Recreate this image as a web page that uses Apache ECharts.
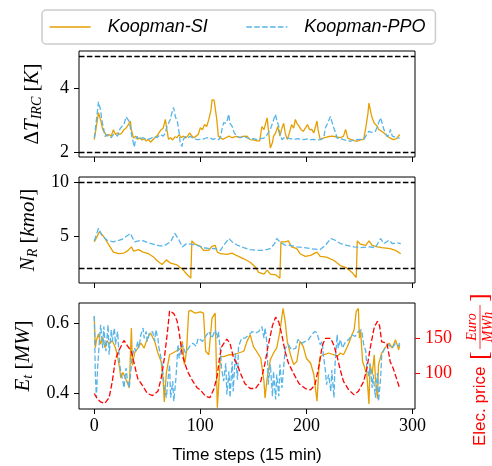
<!DOCTYPE html>
<html>
<head>
<meta charset="utf-8">
<script src="https://cdn.jsdelivr.net/npm/echarts@6/dist/echarts.min.js"></script>
<style>
body { margin: 0; background: #fff; }
#main { width: 492px; height: 466px; }
</style>
</head>
<body>
<div id="main"></div>
<script>
// time step ticks
var stepTicks = [0, 100, 200, 300];

// delta T IRC [K]
var tempTicks = [2, 4];
var tempBounds = [2, 5];
var siTemp = [[0,2.39],[2,2.8],[4,3.23],[6,3.0],[8,2.7],[10,2.6],[12,2.5],[14,2.55],[16,2.5],[18,2.7],[20,2.55],[22,2.6],[24,2.55],[26,2.6],[28,2.7],[30,2.75],[32,2.85],[34,2.97],[35,2.7],[37,2.44],[39,2.5],[41,2.4],[43,2.45],[45,2.38],[47,2.42],[49,2.35],[51,2.4],[53,2.31],[55,2.38],[57,2.45],[59,2.5],[61,2.6],[63,2.7],[65,2.75],[67,3.02],[68.5,2.7],[70,2.4],[72,2.45],[74,2.38],[76,2.48],[78,2.45],[80,2.55],[82,2.45],[84,2.5],[86,2.44],[88,2.5],[90,2.6],[92,2.5],[94,2.45],[96,2.5],[98,2.55],[100,2.76],[102,2.7],[104,2.86],[106,2.8],[108,3.02],[110,3.3],[111,3.63],[113,3.62],[114,3.6],[115.5,3.02],[117,2.5],[119,2.45],[121,2.4],[124,2.45],[127,2.5],[130,2.45],[134,2.49],[137,2.45],[140,2.49],[144,2.5],[147,2.39],[150,2.38],[153,2.35],[156,2.35],[158,2.8],[160,2.7],[163,3.07],[164.5,2.6],[166,2.13],[168,2.3],[169,2.49],[171,2.6],[173,2.8],[175,2.5],[177,2.75],[178.6,2.9],[180,2.6],[182,2.39],[184,2.6],[186,2.86],[188,2.75],[189.6,3.02],[191,2.9],[193,2.81],[195,2.7],[197,2.65],[199,2.75],[201,2.86],[203,2.7],[205,2.71],[207,2.6],[210,2.97],[211,2.7],[213,2.39],[216,2.44],[220,2.48],[224,2.5],[228,2.48],[232,2.45],[235,2.5],[237,2.71],[239,2.44],[242,2.39],[245,2.36],[248,2.34],[251,2.38],[254,2.4],[256,2.76],[258,3.2],[259,3.53],[261,3.2],[262,3.07],[264,2.9],[265,2.86],[267,2.8],[268,2.71],[271,2.65],[273,2.6],[276,2.5],[279,2.44],[282,2.39],[285,2.42],[288,2.55]];
var ppoTemp = [[0,2.44],[2,3.0],[4,3.57],[6,3.3],[7,3.02],[9,2.7],[10,2.49],[12,2.55],[14,2.5],[16,2.45],[18,2.55],[20,2.55],[22,2.5],[24,2.71],[26,2.8],[28,2.86],[30,3.1],[31,3.15],[33,2.95],[34,2.92],[35.5,2.49],[37.7,2.16],[39,2.4],[40.3,2.49],[42,2.4],[43.4,2.34],[46,2.45],[49.7,2.39],[53,2.42],[56,2.49],[59,2.45],[62.3,2.55],[65,2.5],[67,2.6],[68.6,2.81],[70,2.9],[71.7,3.02],[73,3.2],[74.8,3.39],[76.5,3.1],[78.6,2.92],[80,2.6],[81.1,2.28],[82.7,2.18],[84,2.4],[85.9,2.49],[88,2.45],[90.6,2.49],[94,2.42],[96.9,2.39],[100,2.4],[103.1,2.41],[106,2.45],[109.4,2.44],[112,2.4],[114,2.42],[117,2.39],[119,2.45],[120.4,2.71],[122,2.92],[124,2.9],[125.2,2.97],[126.7,3.18],[128,2.9],[129.9,2.81],[132,2.6],[134.6,2.49],[138,2.45],[140.9,2.49],[144,2.45],[147.2,2.39],[150,2.42],[153.5,2.39],[156.6,2.42],[159.8,2.44],[162,2.5],[164,2.6],[166,2.71],[168,2.9],[169.2,3.02],[170.8,3.18],[172,3.0],[173.9,2.81],[175,2.6],[177,2.39],[179,2.45],[181.8,2.44],[184.9,2.42],[188.1,2.39],[192,2.42],[197.5,2.39],[200,2.41],[203.8,2.39],[207,2.4],[210,2.38],[213.2,2.39],[216.4,2.45],[217.9,2.76],[220,2.9],[222.7,3.11],[224,2.95],[225.8,2.76],[227.5,2.6],[228.9,2.44],[232,2.42],[235.2,2.39],[238,2.36],[241.5,2.34],[244,2.38],[247.8,2.39],[251,2.4],[254.1,2.39],[256,2.5],[258.8,2.65],[262,2.62],[265.1,2.65],[267,2.8],[268.5,2.95],[269.8,3.07],[271.5,2.9],[273,2.71],[276.1,2.49],[278,2.55],[279.2,2.71],[281,2.5],[282.4,2.44],[285,2.45],[288,2.44]];

// N_R [kmol]
var nrTicks = [5, 10];
var nrBounds = [2, 10];
var siNr = [[0,4.45],[5,5.39],[9,4.92],[14,4.13],[18,3.5],[23,3.35],[28,3.41],[32,3.66],[35,3.98],[37,3.6],[42,3.73],[46,3.5],[51,3.35],[56,3.04],[59,2.72],[64,2.35],[68,2.78],[72,2.47],[78,2.31],[83,1.94],[87,1.47],[91,1.09],[92,4.54],[95,4.23],[100,4.04],[103,3.66],[108,3.66],[111,4.04],[114,4.13],[116,3.5],[119,3.35],[125,3.29],[130,3.41],[134,3.19],[141,2.88],[147,2.56],[152,2.09],[155,1.62],[160,1.47],[163,1.84],[166,1.47],[171,1.4],[175,1.09],[176,4.45],[180,4.45],[183,4.54],[186,3.98],[191,3.82],[194,3.35],[199,3.1],[204,3.19],[210,3.5],[213,3.1],[219,3.04],[226,2.72],[232,2.25],[238,2.03],[243,1.62],[247,1.15],[248,4.54],[251,4.23],[256,4.13],[259,4.54],[262,4.13],[267,3.98],[271,3.91],[279,3.82],[284,3.66],[289,3.35]];
var ppoNr = [[0,4.54],[4,5.7],[7,5.07],[12,4.6],[18,4.45],[26,4.67],[34,5.23],[38,4.45],[45,4.6],[51,4.35],[59,4.13],[65,4.04],[72,4.45],[76,5.23],[80,4.6],[83,3.98],[87,4.29],[91,4.23],[97,4.13],[103,3.91],[109,3.82],[114,3.82],[119,3.66],[122,4.13],[127,4.76],[130,4.45],[135,4.13],[141,3.91],[147,3.73],[153,3.66],[160,3.66],[166,3.82],[170,4.29],[172,4.76],[175,4.45],[180,4.13],[185,4.13],[191,3.98],[198,3.91],[204,3.82],[213,3.73],[218,4.13],[223,4.76],[227,4.6],[232,4.29],[238,4.13],[245,3.98],[251,3.91],[259,3.98],[265,3.91],[270,4.76],[273,4.29],[278,4.6],[281,4.29],[286,4.35],[289,4.29]];

// E_t [MW]
var powerTicks = [0.4, 0.6];
var siPower = [[0,0.62],[1,0.53],[2,0.55],[4,0.57],[6,0.54],[8,0.56],[10,0.53],[12,0.55],[14,0.54],[17,0.55],[20,0.53],[22,0.505],[24,0.47],[25,0.444],[27,0.46],[30,0.439],[33,0.416],[35,0.586],[36,0.48],[38,0.515],[41,0.529],[44,0.543],[47,0.529],[50,0.557],[53,0.572],[57,0.548],[60,0.515],[63,0.491],[65,0.435],[66,0.376],[68,0.46],[71,0.51],[74,0.515],[77,0.52],[79,0.524],[82,0.529],[83,0.548],[85,0.482],[87,0.52],[89,0.633],[91,0.636],[95,0.628],[100,0.632],[103,0.628],[105,0.52],[108,0.51],[111,0.614],[114,0.628],[116,0.36],[119,0.505],[122,0.505],[127,0.51],[131,0.51],[136,0.515],[141,0.52],[144,0.548],[147,0.567],[150,0.534],[153,0.52],[157,0.5],[160,0.435],[161,0.387],[163,0.444],[166,0.496],[169,0.515],[172,0.529],[175,0.576],[178,0.642],[180,0.605],[182,0.548],[185,0.51],[188,0.482],[191,0.491],[194,0.548],[197,0.534],[200,0.5],[204,0.486],[207,0.454],[210,0.378],[212,0.482],[213,0.505],[216,0.51],[221,0.515],[226,0.51],[229,0.505],[232,0.515],[235,0.51],[238,0.529],[240,0.543],[243,0.567],[245,0.581],[247,0.633],[249,0.642],[250,0.557],[251,0.581],[253,0.491],[257,0.454],[259,0.37],[260,0.482],[262,0.454],[264,0.51],[265,0.444],[267,0.385],[268,0.482],[271,0.515],[274,0.529],[278,0.543],[281,0.529],[284,0.553],[287,0.524],[288,0.539]];
var ppoPower = [[0,0.62],[1,0.454],[2,0.388],[3,0.465],[5,0.557],[6,0.595],[8,0.529],[9,0.59],[11,0.52],[13,0.595],[14,0.51],[16,0.581],[17,0.548],[19,0.586],[20,0.539],[22,0.576],[24,0.482],[25,0.463],[27,0.435],[28,0.416],[30,0.472],[31,0.444],[33,0.416],[35,0.482],[36,0.51],[38,0.529],[39,0.52],[41,0.548],[42,0.529],[44,0.567],[46,0.586],[47,0.557],[49,0.576],[50,0.548],[52,0.572],[55,0.576],[57,0.548],[58,0.581],[60,0.557],[61,0.529],[63,0.5],[64,0.482],[66,0.416],[68,0.388],[69,0.425],[71,0.482],[72,0.388],[74,0.435],[75,0.378],[77,0.444],[79,0.539],[80,0.5],[82,0.529],[83,0.539],[86,0.515],[90,0.534],[93,0.543],[96,0.534],[98,0.557],[100,0.553],[102,0.548],[105,0.562],[108,0.576],[111,0.557],[114,0.581],[116,0.557],[117,0.576],[119,0.52],[120,0.472],[122,0.435],[124,0.486],[125,0.397],[127,0.463],[128,0.388],[130,0.491],[131,0.406],[133,0.515],[135,0.439],[136,0.534],[139,0.557],[142,0.557],[146,0.567],[149,0.576],[152,0.572],[155,0.576],[158,0.59],[160,0.557],[161,0.586],[163,0.539],[164,0.425],[166,0.482],[168,0.392],[169,0.463],[171,0.383],[172,0.454],[174,0.392],[175,0.482],[177,0.416],[179,0.491],[180,0.529],[183,0.539],[186,0.524],[190,0.529],[192,0.553],[196,0.543],[199,0.548],[202,0.553],[205,0.567],[208,0.576],[210,0.572],[213,0.539],[215,0.548],[216,0.51],[218,0.463],[219,0.425],[221,0.454],[223,0.406],[224,0.467],[226,0.388],[227,0.482],[229,0.567],[230,0.529],[232,0.553],[234,0.529],[237,0.548],[240,0.553],[243,0.567],[246,0.562],[249,0.576],[252,0.581],[254,0.539],[256,0.52],[257,0.472],[259,0.449],[260,0.486],[262,0.416],[263,0.454],[265,0.388],[267,0.458],[268,0.378],[270,0.444],[271,0.51],[274,0.529],[277,0.539],[281,0.529],[284,0.543],[287,0.534],[288,0.548]];

// electricity price [Euro/MWh]
var priceTicks = [100, 150];
var price = [[0,72],[3,64],[6,60],[10,58],[14,66],[17,89],[20,121],[24,135],[28,147],[31,140],[35,131],[38,112],[41,93],[46,82],[50,72],[55,69],[60,75],[63,93],[66,121],[69,159],[71,189],[75,185],[78,175],[80,159],[83,126],[88,103],[93,89],[97,80],[100,77],[105,68],[109,66],[113,79],[116,98],[118,121],[120,138],[125,149],[128,143],[131,124],[135,112],[138,100],[142,86],[147,79],[152,79],[157,89],[161,115],[164,140],[168,168],[171,180],[174,173],[177,154],[180,131],[183,115],[188,100],[193,86],[199,79],[204,77],[208,84],[212,112],[215,140],[218,150],[223,150],[226,140],[229,124],[232,105],[235,89],[240,77],[245,70],[249,75],[254,89],[257,107],[260,135],[264,166],[267,174],[269,168],[271,145],[276,143],[279,117],[282,107],[285,93],[288,79]];

var orange = '#e69f00';
var blue = '#56b4e9';
var serif = '"Liberation Serif", serif';
var sans = '"Liberation Sans", sans-serif';

// mathtext-like axis names
var mathRich = {
	r: { fontFamily: serif, fontSize: 21, color: '#000', lineHeight: 24 },
	i: { fontFamily: serif, fontSize: 21, fontStyle: 'italic', color: '#000', lineHeight: 24 },
	s: { fontFamily: serif, fontSize: 14, fontStyle: 'italic', color: '#000', lineHeight: 24, verticalAlign: 'bottom' }
};

var gridTops = [51, 177, 303];

function makeX(i){
	return {
		type: 'value', gridIndex: i, min: -14.4, max: 302.4,
		axisLine: { show: false, onZero: false },
		splitLine: { show: false },
		axisTick: { show: true, length: 5, customValues: stepTicks, lineStyle: { color: '#000', width: 1 } },
		axisLabel: { show: i == 2, customValues: stepTicks, fontFamily: serif, fontSize: 18, color: '#000', margin: 8 },
		name: i == 2 ? 'Time steps (15 min)' : '',
		nameLocation: 'middle', nameGap: 38,
		nameTextStyle: { fontFamily: sans, fontSize: 17, color: '#000' }
	};
}

function makeY(i, min, max, ticks, name){
	return {
		type: 'value', gridIndex: i, min: min, max: max,
		axisLine: { show: false, onZero: false },
		splitLine: { show: false },
		axisTick: { show: true, length: 5, customValues: ticks, lineStyle: { color: '#000', width: 1 } },
		axisLabel: { customValues: ticks, fontFamily: serif, fontSize: 18, color: '#000', margin: 10 },
		name: name, nameLocation: 'middle', nameGap: 35,
		nameTextStyle: { rich: mathRich }
	};
}

function boundLine(values){
	return {
		silent: true, symbol: 'none', label: { show: false },
		lineStyle: { color: '#000', type: [5.5, 2.4], width: 1.3 },
		data: values.map(function(v){ return { yAxis: v }; })
	};
}

function lineSeries(name, data, xi, yi, color, dashed){
	return {
		name: name, type: 'line', xAxisIndex: xi, yAxisIndex: yi,
		data: data, symbol: 'none', showSymbol: false,
		lineStyle: { color: color, width: 1.3, type: dashed ? [5.5, 2.4] : 'solid' },
		itemStyle: { color: color }
	};
}

var chart = echarts.init(document.getElementById('main'));

var series = [];
var s;
s = lineSeries('Koopman-SI', siTemp, 0, 0, orange, false);
s.markLine = boundLine(tempBounds);
series.push(s);
series.push(lineSeries('Koopman-PPO', ppoTemp, 0, 0, blue, true));
s = lineSeries('Koopman-SI', siNr, 1, 1, orange, false);
s.markLine = boundLine(nrBounds);
series.push(s);
series.push(lineSeries('Koopman-PPO', ppoNr, 1, 1, blue, true));
series.push(lineSeries('Koopman-SI', siPower, 2, 2, orange, false));
series.push(lineSeries('Koopman-PPO', ppoPower, 2, 2, blue, true));
series.push(lineSeries('Elec. price', price, 2, 3, '#ff0000', true));

var option = {
	animation: false,
	backgroundColor: '#fff',
	legend: {
		data: ['Koopman-SI', 'Koopman-PPO'],
		left: 42, top: 10,
		itemWidth: 41, itemHeight: 14, itemGap: 38,
		padding: [8, 10, 8, 7],
		borderColor: '#cccccc', borderWidth: 1.5, borderRadius: 4,
		itemStyle: { opacity: 0 },
		lineStyle: { width: 1.3 },
		textStyle: { fontFamily: sans, fontSize: 18, fontStyle: 'italic', color: '#000', padding: [0, 0, 0, 12] }
	},
	grid: gridTops.map(function(t){
		return { left: 79, top: t, width: 336, height: 106, show: true, borderColor: '#000', borderWidth: 1, backgroundColor: 'transparent' };
	}),
	xAxis: [makeX(0), makeX(1), makeX(2)],
	yAxis: [
		makeY(0, 1.85, 5.15, tempTicks, '{r|Δ}{i|T}{s|IRC}{r| [}{i|K}{r|]}'),
		makeY(1, 0.64, 10.45, nrTicks, '{i|N}{s|R}{r| [}{i|kmol}{r|]}'),
		makeY(2, 0.356, 0.657, powerTicks, '{i|E}{s|t}{r| [}{i|MW}{r|]}'),
		{
			type: 'value', gridIndex: 2, position: 'right', min: 50, max: 200,
			axisLine: { show: false, onZero: false },
			splitLine: { show: false },
			axisTick: { show: true, length: 5, customValues: priceTicks, lineStyle: { color: '#ff0000', width: 1 } },
			axisLabel: { customValues: priceTicks, fontFamily: serif, fontSize: 18, color: '#ff0000', margin: 10 }
		}
	],
	// right axis title, written sideways
	graphic: [{
		type: 'group', x: 480, y: 446, rotation: Math.PI / 2,
		children: [
			{ type: 'text', x: 0, y: 0, style: { text: 'Elec. price', font: '17px "Liberation Sans"', fill: '#ff0000', textAlign: 'left', textVerticalAlign: 'middle' } },
			{ type: 'text', x: 86, y: 0, style: { text: '[', font: '26px "Liberation Serif"', fill: '#ff0000', textAlign: 'left', textVerticalAlign: 'middle' } },
			{ type: 'text', x: 119, y: -8, style: { text: 'Euro', font: 'italic 14px "Liberation Serif"', fill: '#ff0000', textAlign: 'center', textVerticalAlign: 'middle' } },
			{ type: 'line', shape: { x1: 97, y1: 0, x2: 141, y2: 0 }, style: { stroke: '#ff0000', lineWidth: 0.8 } },
			{ type: 'text', x: 119, y: 8, style: { text: 'MWh', font: 'italic 14px "Liberation Serif"', fill: '#ff0000', textAlign: 'center', textVerticalAlign: 'middle' } },
			{ type: 'text', x: 144, y: 0, style: { text: ']', font: '26px "Liberation Serif"', fill: '#ff0000', textAlign: 'left', textVerticalAlign: 'middle' } }
		]
	}],
	series: series
};

chart.setOption(option);
</script>
</body>
</html>
